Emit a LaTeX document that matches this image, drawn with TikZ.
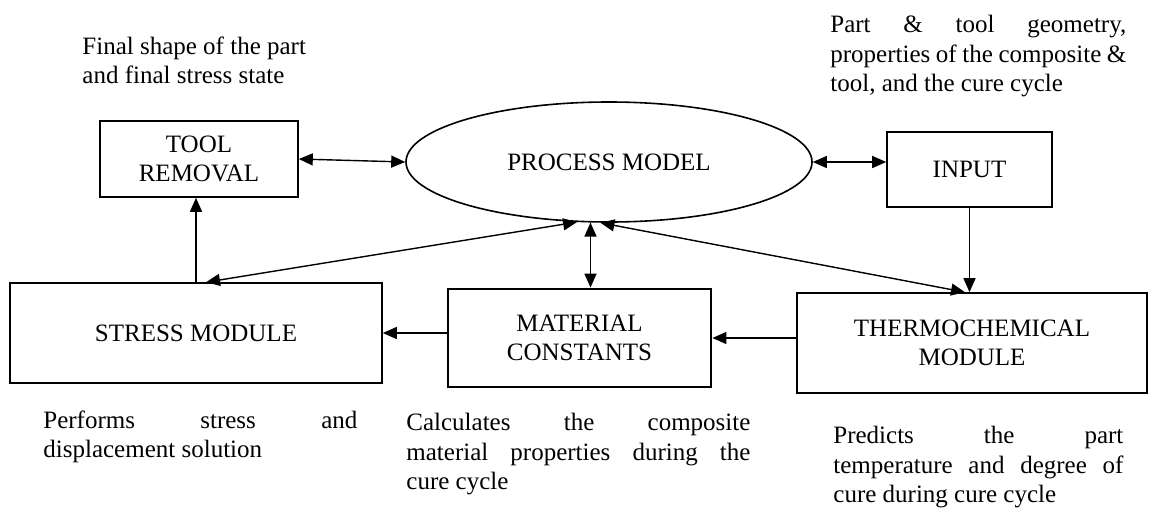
\documentclass[tikz,border=0pt]{standalone}
\usepackage{fontspec}
\setmainfont{Liberation Serif}
\usetikzlibrary{shapes.geometric,arrows.meta}

\begin{document}
\begin{tikzpicture}[x=0.5pt,y=-0.5pt,
  font=\fontsize{12.5}{14.8}\selectfont,
  box/.style={draw, line width=0.8pt, inner sep=0pt, align=center},
  note/.style={anchor=north west, inner sep=0pt, align=justify},
  link/.style={line width=0.7pt, -{Triangle[length=7pt,width=6pt]}},
  both/.style={line width=0.7pt, {Triangle[length=7pt,width=6pt]}-{Triangle[length=7pt,width=6pt]}}]
  \useasboundingbox (0,0) rectangle (1161,514);

  % modules
  \node[box, ellipse, minimum width=203pt, minimum height=60pt] (model) at (609,162) {PROCESS MODEL};
  \node[box, minimum width=99pt, minimum height=38pt] (removal) at (199,159) {TOOL\\REMOVAL};
  \node[box, minimum width=82.5pt, minimum height=37.5pt] (input) at (969.5,169.5) {INPUT};
  \node[box, minimum width=175pt, minimum height=50pt] (thermo) at (972,343) {THERMOCHEMICAL\\MODULE};
  \node[box, line width=1.4pt, minimum width=131.5pt, minimum height=49pt] (material) at (579.5,338) {MATERIAL\\CONSTANTS};
  \node[box, minimum width=186pt, minimum height=50pt] (stress) at (196,333) {STRESS MODULE};

  % notes
  \node[note, align=left] (removalnote) at (82,36) {Final shape of the part\\and final stress state};
  \node[note, text width=148pt] (inputnote) at (830,15) {Part \& tool geometry,\linebreak properties of the composite \&\linebreak tool, and the cure cycle};
  \node[note, text width=157pt] (stressnote) at (43,410) {Performs stress and\linebreak displacement solution};
  \node[note, text width=172pt] (materialnote) at (406,413) {Calculates the composite\linebreak material properties during the\linebreak cure cycle};
  \node[note, text width=145pt] (thermonote) at (833,426) {Predicts the part\linebreak temperature and degree of\linebreak cure during cure cycle};

  % connections
  \draw[both] (removal.east) -- (model.west);
  \draw[both] (model.east) -- (model.east -| input.west);
  \draw[link] (input.south) -- (input.south |- thermo.north);
  \draw[link] (stress.north) -- (stress.north |- removal.south);
  \draw[both] ([xshift=5pt]stress.north) -- (model.242);
  \draw[both] (model.253) -- (model.253 |- material.north);
  \draw[both] (model.262) -- ([xshift=-3.5pt]thermo.north);
  \draw[link] (material.east -| thermo.west) -- (material.east);
  \draw[link] (stress.east -| material.west) -- (stress.east);
\end{tikzpicture}
\end{document}
